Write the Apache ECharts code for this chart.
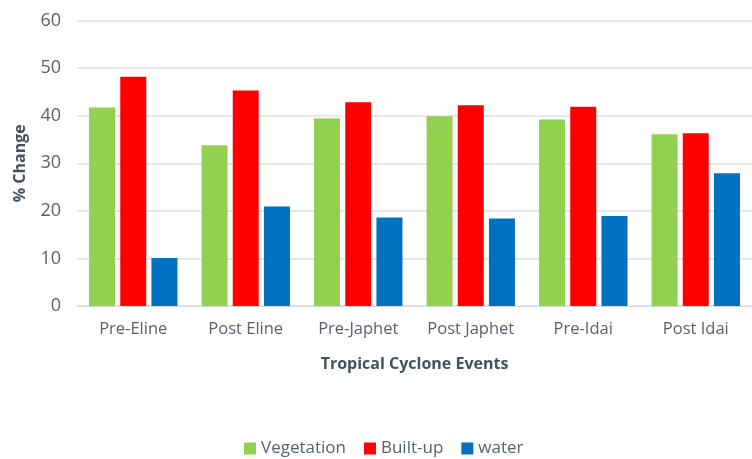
<!DOCTYPE html>
<html>
<head>
<meta charset="utf-8">
<script src="https://cdn.jsdelivr.net/npm/echarts@6/dist/echarts.min.js"></script>
<style>html,body{margin:0;padding:0;background:#fff}#c{width:752px;height:459px}</style>
</head>
<body>
<div id="c"></div>
<script>
const categories = ['Pre-Eline', 'Post Eline', 'Pre-Japhet', 'Post Japhet', 'Pre-Idai', 'Post Idai'];
const vegetation = [41.7, 33.8, 39.4, 39.9, 39.2, 36.1];
const builtUp = [48.2, 45.3, 42.8, 42.2, 41.9, 36.3];
const water = [10.1, 20.9, 18.6, 18.4, 18.9, 27.9];
const yTicks = [0, 10, 20, 30, 40, 50, 60];

const textColor = '#595f6b';
const font = '"Open Sans", sans-serif';
const chart = echarts.init(document.getElementById('c'));
chart.setOption({
  animation: false,
  textStyle: { fontFamily: font },
  grid: { left: 77, top: 20.5, width: 684, bottom: 153, containLabel: false },
  legend: {
    left: 239, top: 435,
    itemWidth: 12, itemHeight: 12, itemGap: 18,
    icon: 'rect',
    textStyle: { color: textColor, fontSize: 17, fontFamily: font, padding: [0, 0, 0, 0] },
    data: ['Vegetation', 'Built-up', 'water']
  },
  xAxis: {
    type: 'category',
    data: categories,
    name: 'Tropical Cyclone Events',
    nameLocation: 'middle',
    nameGap: 50,
    nameTextStyle: { color: '#44505e', fontSize: 16, fontWeight: 'bold', fontFamily: font },
    axisLine: { show: true, lineStyle: { color: '#d9d9d9', width: 1 } },
    axisTick: { show: false },
    axisLabel: { interval: 0, color: textColor, fontSize: 16.5, margin: 15, fontFamily: font }
  },
  yAxis: {
    type: 'value',
    min: yTicks[0], max: yTicks[yTicks.length - 1], interval: 10,
    name: '% Change',
    nameLocation: 'middle',
    nameRotate: 90,
    nameGap: 49,
    nameTextStyle: { color: '#44505e', fontSize: 16, fontWeight: 'bold', fontFamily: font },
    axisLine: { show: false },
    axisTick: { show: false },
    axisLabel: { color: textColor, fontSize: 18, margin: 16, fontFamily: font },
    splitLine: { lineStyle: { color: '#dde1e6', width: 1.5 } }
  },
  series: [
    { name: 'Vegetation', type: 'bar', data: vegetation, barWidth: 26, barGap: '20%', itemStyle: { color: '#92D050' } },
    { name: 'Built-up', type: 'bar', data: builtUp, barWidth: 26, barGap: '20%', itemStyle: { color: '#FF0000' } },
    { name: 'water', type: 'bar', data: water, barWidth: 26, barGap: '20%', itemStyle: { color: '#0070C0' } }
  ]
});
</script>
</body>
</html>
